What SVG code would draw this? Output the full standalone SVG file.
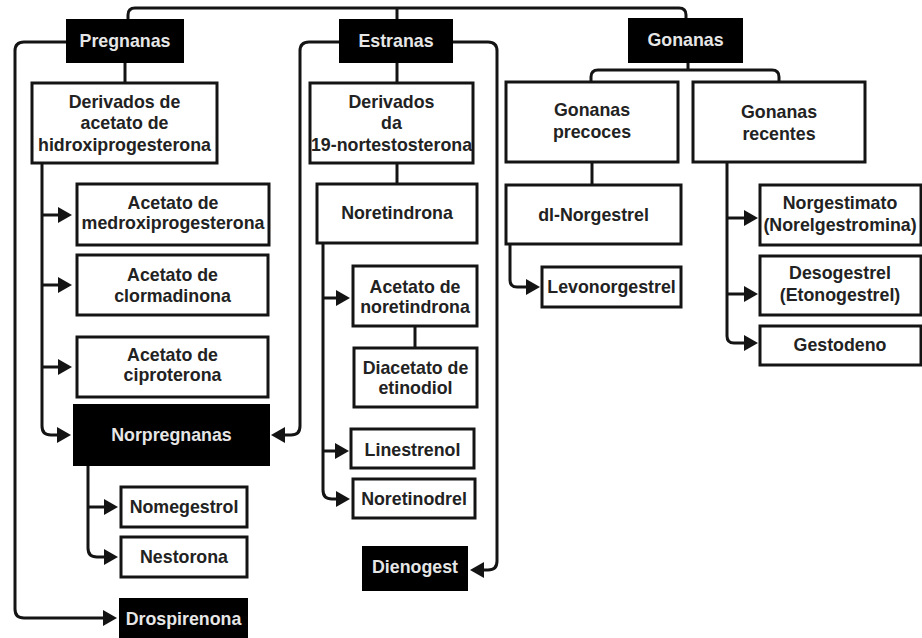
<svg xmlns="http://www.w3.org/2000/svg" width="922" height="638" viewBox="0 0 922 638">
<style>
.box{fill:#fff;stroke:#141414;stroke-width:3}
.dark{fill:#000;stroke:#000;stroke-width:2}
.t{font-family:"Liberation Sans",Arial,sans-serif;font-weight:bold;font-size:17.8px;fill:#222;text-anchor:middle}
.w{fill:#e6e6e6}
.c{fill:none;stroke:#141414;stroke-width:3}
</style>
<defs>
<marker id="ah" markerUnits="userSpaceOnUse" markerWidth="16" markerHeight="18" refX="6" refY="9" orient="auto">
<path d="M0,1 L14,9 L0,17 z" fill="#141414"/>
</marker>
</defs>
<rect width="922" height="638" fill="#fff"/>
<g id="connectors">
<path class="c" d="M128,20 V15 Q128,8 135,8 H679 Q686,8 686,15 V20"/>
<path class="c" d="M397,8 V20"/>
<path class="c" d="M67,42 H24 Q15,42 15,51 V609 Q15,618 24,618 H109" marker-end="url(#ah)"/>
<path class="c" d="M125,62 V83"/>
<path class="c" d="M42,163 V426 Q42,435 51,435 H63" marker-end="url(#ah)"/>
<path class="c" d="M42,215 H64" marker-end="url(#ah)"/>
<path class="c" d="M42,285 H64" marker-end="url(#ah)"/>
<path class="c" d="M42,367 H64" marker-end="url(#ah)"/>
<path class="c" d="M88,465 V548 Q88,557 97,557 H110" marker-end="url(#ah)"/>
<path class="c" d="M88,507 H110" marker-end="url(#ah)"/>
<path class="c" d="M340,42 H309 Q300,42 300,51 V426 Q300,435 291,435 H279" marker-end="url(#ah)"/>
<path class="c" d="M452,42 H488 Q497,42 497,51 V561 Q497,570 488,570 H478" marker-end="url(#ah)"/>
<path class="c" d="M397,62 V83"/>
<path class="c" d="M397,163 V184"/>
<path class="c" d="M323,243 V490 Q323,499 332,499 H342" marker-end="url(#ah)"/>
<path class="c" d="M323,298 H342" marker-end="url(#ah)"/>
<path class="c" d="M323,451 H341" marker-end="url(#ah)"/>
<path class="c" d="M415,326 V348"/>
<path class="c" d="M688,62 V70"/>
<path class="c" d="M591,82 V77 Q591,70 598,70 H772 Q779,70 779,77 V82"/>
<path class="c" d="M592,162 V185"/>
<path class="c" d="M510,244 V280 Q510,287 517,287 H532" marker-end="url(#ah)"/>
<path class="c" d="M727,162 V336 Q727,343 734,343 H750" marker-end="url(#ah)"/>
<path class="c" d="M727,218 H750" marker-end="url(#ah)"/>
<path class="c" d="M727,294 H750" marker-end="url(#ah)"/>
</g>
<g id="pregnanas"><rect class="dark" x="67" y="20" width="116" height="42"/><text class="t w" x="125" y="47">Pregnanas</text></g>
<g id="estranas"><rect class="dark" x="340" y="20" width="112" height="42"/><text class="t w" x="396" y="47">Estranas</text></g>
<g id="gonanas"><rect class="dark" x="629" y="19" width="113" height="43"/><text class="t w" x="685.5" y="46">Gonanas</text></g>
<g id="derivados-acetato"><rect class="box" x="32" y="83" width="185" height="80"/><text class="t" x="124.5" y="108">Derivados de</text><text class="t" x="124.5" y="129">acetato de</text><text class="t" x="124.5" y="151">hidroxiprogesterona</text></g>
<g id="derivados-19"><rect class="box" x="310" y="83" width="163" height="80"/><text class="t" x="391.5" y="108">Derivados</text><text class="t" x="391.5" y="129">da</text><text class="t" x="391.5" y="151">19-nortestosterona</text></g>
<g id="gonanas-precoces"><rect class="box" x="506" y="82" width="172" height="80"/><text class="t" x="592" y="116">Gonanas</text><text class="t" x="592" y="138">precoces</text></g>
<g id="gonanas-recentes"><rect class="box" x="693" y="82" width="172" height="80"/><text class="t" x="779" y="118">Gonanas</text><text class="t" x="779" y="140">recentes</text></g>
<g id="medroxi"><rect class="box" x="77" y="184" width="192" height="61"/><text class="t" x="173" y="209">Acetato de</text><text class="t" x="173" y="229">medroxiprogesterona</text></g>
<g id="clormadinona"><rect class="box" x="77" y="255" width="191" height="60"/><text class="t" x="172.5" y="281">Acetato de</text><text class="t" x="172.5" y="302">clormadinona</text></g>
<g id="ciproterona"><rect class="box" x="77" y="337" width="191" height="60"/><text class="t" x="172.5" y="361">Acetato de</text><text class="t" x="172.5" y="381">ciproterona</text></g>
<g id="norpregnanas"><rect class="dark" x="74" y="405" width="195" height="60"/><text class="t w" x="171.5" y="441">Norpregnanas</text></g>
<g id="nomegestrol"><rect class="box" x="121" y="487" width="126" height="40"/><text class="t" x="184" y="513">Nomegestrol</text></g>
<g id="nestorona"><rect class="box" x="121" y="537" width="126" height="40"/><text class="t" x="184" y="563">Nestorona</text></g>
<g id="drospirenona"><rect class="dark" x="120" y="599" width="127" height="42"/><text class="t w" x="183.5" y="625">Drospirenona</text></g>
<g id="noretindrona"><rect class="box" x="317" y="184" width="160" height="59"/><text class="t" x="397" y="219">Noretindrona</text></g>
<g id="acetato-noretindrona"><rect class="box" x="353" y="266" width="124" height="60"/><text class="t" x="415" y="293">Acetato de</text><text class="t" x="415" y="313">noretindrona</text></g>
<g id="diacetato"><rect class="box" x="354" y="348" width="123" height="59"/><text class="t" x="415.5" y="374">Diacetato de</text><text class="t" x="415.5" y="394">etinodiol</text></g>
<g id="linestrenol"><rect class="box" x="351" y="429" width="123" height="39"/><text class="t" x="412.5" y="456">Linestrenol</text></g>
<g id="noretinodrel"><rect class="box" x="353" y="479" width="122" height="39"/><text class="t" x="414" y="505">Noretinodrel</text></g>
<g id="dienogest"><rect class="dark" x="363" y="547" width="104" height="43"/><text class="t w" x="415" y="573">Dienogest</text></g>
<g id="dl-norgestrel"><rect class="box" x="506" y="185" width="175" height="59"/><text class="t" x="593.5" y="221">dl-Norgestrel</text></g>
<g id="levonorgestrel"><rect class="box" x="542" y="267" width="139" height="40"/><text class="t" x="611.5" y="293">Levonorgestrel</text></g>
<g id="norgestimato"><rect class="box" x="760" y="185" width="161" height="60"/><text class="t" x="840" y="209">Norgestimato</text><text class="t" x="840" y="231">(Norelgestromina)</text></g>
<g id="desogestrel"><rect class="box" x="760" y="256" width="161" height="59"/><text class="t" x="840" y="279">Desogestrel</text><text class="t" x="840" y="301">(Etonogestrel)</text></g>
<g id="gestodeno"><rect class="box" x="760" y="326" width="161" height="39"/><text class="t" x="840" y="351">Gestodeno</text></g>
</svg>
